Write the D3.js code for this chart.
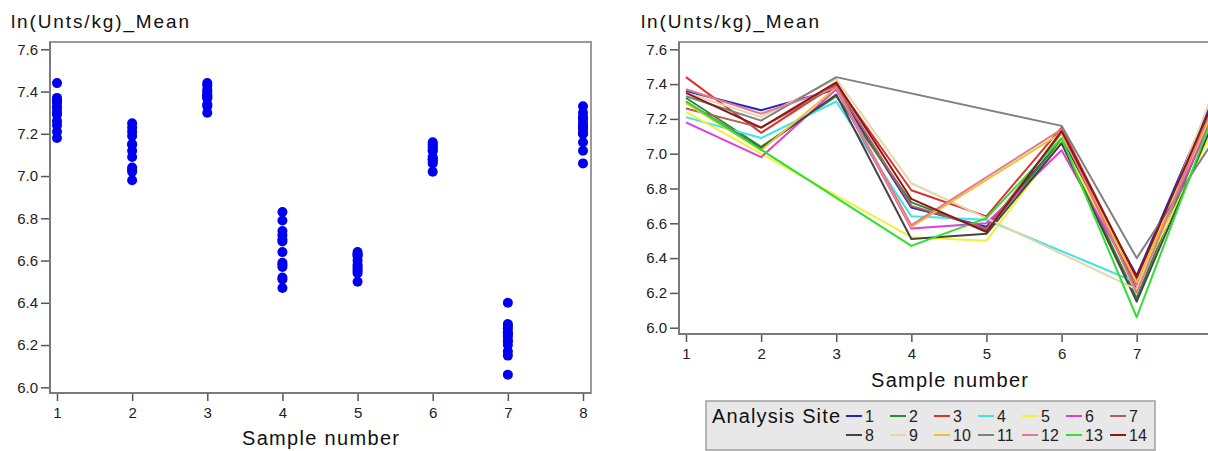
<!DOCTYPE html>
<html>
<head>
<meta charset="utf-8">
<script src="https://cdn.jsdelivr.net/npm/d3@7"></script>
<style>
  body { margin: 0; background: #fff; }
  svg { display: block; font-family: "Liberation Sans", Arial, sans-serif; }
</style>
</head>
<body>
<div id="chart"></div>
<script>
// x categories and tick labels
const sampleNumbers = [1, 2, 3, 4, 5, 6, 7, 8];
const yTickValues = [6.0, 6.2, 6.4, 6.6, 6.8, 7.0, 7.2, 7.4, 7.6];
const siteNames = ["1", "2", "3", "4", "5", "6", "7", "8", "9", "10", "11", "12", "13", "14"];

// ln(Unts/kg) mean for each analysis site, one value per sample number (null = no result)
const siteMeans = [
  [7.36, 7.25, 7.37, 6.69, 6.58, 7.08, 6.30, 7.30],
  [7.32, 7.04, 7.33, 6.72, 6.56, 7.08, 6.17, 7.22],
  [7.44, 7.12, 7.40, 6.79, 6.64, 7.15, 6.28, 7.27],
  [7.21, 7.09, 7.30, 6.64, 6.62, null, 6.26, 7.24],
  [7.24, null, null, 6.52, 6.50, 7.07, 6.24, 7.12],
  [7.18, 6.98, 7.37, 6.57, 6.60, 7.02, 6.25, 7.20],
  [7.26, 7.15, 7.39, 6.70, 6.57, 7.12, 6.22, 7.25],
  [7.30, 7.03, 7.34, 6.51, 6.54, 7.06, 6.15, 7.16],
  [7.35, 7.21, 7.43, 6.83, 6.63, null, 6.22, 7.33],
  [7.29, 7.02, 7.38, 6.58, null, 7.12, 6.26, 7.23],
  [7.33, 7.19, 7.44, null, null, 7.16, 6.40, 7.06],
  [7.37, 7.23, 7.38, 6.59, null, 7.14, 6.20, 7.27],
  [7.30, null, null, 6.47, 6.63, 7.09, 6.06, 7.20],
  [7.35, 7.15, 7.41, 6.74, 6.55, 7.13, 6.29, 7.28]
];

const siteColors = ["#2323c8", "#2f8a2f", "#e0302c", "#40e4e4", "#f2f03c", "#e03ce0", "#b0605a",
  "#444444", "#e4d6a8", "#f0c030", "#808080", "#e27a8e", "#30e030", "#8a1818"];

const color = d3.scaleOrdinal(siteNames, siteColors);

const svg = d3.select("#chart").append("svg")
  .attr("width", 1208)
  .attr("height", 451)
  .attr("viewBox", [0, 0, 1208, 451]);

// one plot frame with axes, returns scales
function panel({ left, right, top, bottom, xr, yr, titleX, labelY, xTicks }) {
  const x = d3.scaleLinear().domain([1, 8]).range(xr);
  const y = d3.scaleLinear().domain([6.0, 7.6]).range(yr);
  const g = svg.append("g");

  g.append("text")
    .attr("x", titleX).attr("y", 28)
    .attr("font-size", 19)
    .attr("textLength", 178).attr("lengthAdjust", "spacing")
    .attr("fill", "#111")
    .text("ln(Unts/kg)_Mean");

  g.append("rect")
    .attr("x", left).attr("y", top)
    .attr("width", right - left).attr("height", bottom - top)
    .attr("fill", "#fff")
    .attr("stroke", "#9a9a9a")
    .attr("stroke-width", 2);

  const yAxis = g.append("g")
    .attr("transform", `translate(${left},0)`)
    .call(d3.axisLeft(y).tickValues(yTickValues).tickFormat(d3.format(".1f")).tickSize(9).tickPadding(3));
  const xAxis = g.append("g")
    .attr("transform", `translate(0,${bottom})`)
    .call(d3.axisBottom(x).tickValues(xTicks).tickFormat(d3.format("d")).tickSize(8).tickPadding(6));

  for (const ax of [yAxis, xAxis]) {
    ax.select(".domain").remove();
    ax.selectAll("line").attr("stroke", "#555").attr("stroke-width", 1.5);
    ax.selectAll("text")
      .attr("font-size", 15)
      .attr("font-family", "'Liberation Sans', Arial, sans-serif")
      .attr("fill", "#222");
  }

  // darker axis lines on left and bottom
  g.append("path")
    .attr("d", `M${left},${top}V${bottom}H${right}`)
    .attr("fill", "none")
    .attr("stroke", "#7a7a7a")
    .attr("stroke-width", 2);

  g.append("text")
    .attr("x", (left + right) / 2).attr("y", labelY)
    .attr("text-anchor", "middle")
    .attr("font-size", 20)
    .attr("textLength", 157).attr("lengthAdjust", "spacing")
    .attr("fill", "#111")
    .text("Sample number");

  return { x, y, g };
}

// left: scatter of all site means
const L = panel({ left: 50, right: 591, top: 42, bottom: 393, xr: [57, 583], yr: [387.3, 49.3],
  titleX: 11, labelY: 445, xTicks: sampleNumbers });

L.g.append("g")
  .selectAll("circle")
  .data(siteMeans.flatMap(row => row.map((v, i) => ({ s: sampleNumbers[i], v })).filter(d => d.v != null)))
  .join("circle")
  .attr("cx", d => L.x(d.s))
  .attr("cy", d => L.y(d.v))
  .attr("r", 5)
  .attr("fill", "#0000f0");

// right: one line per analysis site (sample 8 falls past the window edge)
const R = panel({ left: 679, right: 1220, top: 42, bottom: 334, xr: [686, 1211.8], yr: [327.7, 49.3],
  titleX: 641, labelY: 387, xTicks: sampleNumbers.slice(0, 7) });

svg.append("clipPath").attr("id", "clipR")
  .append("rect").attr("x", 680).attr("y", 43).attr("width", 540).attr("height", 290);

const line = d3.line()
  .x(d => R.x(d.s))
  .y(d => R.y(d.v));

R.g.append("g")
  .attr("clip-path", "url(#clipR)")
  .selectAll("path")
  .data(siteMeans.map((row, k) => ({
    site: siteNames[k],
    pts: row.map((v, i) => ({ s: sampleNumbers[i], v })).filter(d => d.v != null)
  })))
  .join("path")
  .attr("fill", "none")
  .attr("stroke", d => color(d.site))
  .attr("stroke-width", 2)
  .attr("stroke-linejoin", "round")
  .attr("d", d => line(d.pts));

// legend
const leg = svg.append("g");
leg.append("rect")
  .attr("x", 706).attr("y", 401)
  .attr("width", 449).attr("height", 49)
  .attr("fill", "#e8e8e8")
  .attr("stroke", "#a0a0a0")
  .attr("stroke-width", 1.5);
leg.append("text")
  .attr("x", 712).attr("y", 423)
  .attr("font-size", 20)
  .attr("textLength", 128).attr("lengthAdjust", "spacing")
  .attr("fill", "#111")
  .text("Analysis Site");

const item = leg.selectAll("g.item")
  .data(siteNames)
  .join("g")
  .attr("class", "item")
  .attr("transform", (d, i) => `translate(${846 + (i % 7) * 44},${i < 7 ? 416 : 435})`);
item.append("line")
  .attr("x1", 0).attr("x2", 16)
  .attr("stroke", d => color(d))
  .attr("stroke-width", 2);
item.append("text")
  .attr("x", 19).attr("y", 6)
  .attr("font-size", 16)
  .attr("fill", "#222")
  .text(d => d);
</script>
</body>
</html>
